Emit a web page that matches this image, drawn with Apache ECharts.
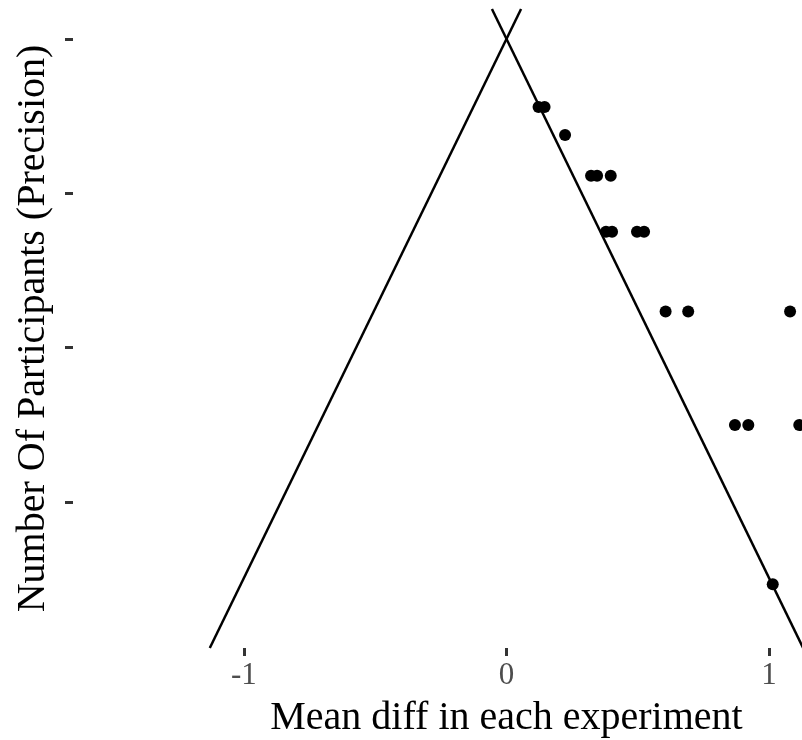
<!DOCTYPE html>
<html>
<head>
<meta charset="utf-8">
<script src="https://cdn.jsdelivr.net/npm/echarts@6/dist/echarts.min.js"></script>
<style>html,body{margin:0;padding:0;background:#fff}#c{width:802px;height:740px}</style>
</head>
<body>
<div id="c"></div>
<script>
// Data (x = mean diff, y = precision)
const meanDiff = [0.122, 0.145, 0.223, 0.322, 0.345, 0.397, 0.379, 0.402, 0.497, 0.524, 0.606, 0.692, 1.080, 0.870, 0.921, 1.115, 1.014];
const precision = [35.59, 35.59, 33.78, 31.14, 31.14, 31.14, 27.51, 27.51, 27.51, 27.51, 22.33, 22.33, 22.33, 14.98, 14.98, 14.98, 4.66];
// Funnel boundary lines (endpoints in data units)
const leftLineX = [-1.130, 0.0555];
const leftLineY = [0.53, 41.94];
const rightLineX = [1.130, -0.0555];
const rightLineY = [0.53, 41.94];
const xTicks = [-1, 0, 1];
const yTicks = [10, 20, 30, 40];
const xRange = [-1.651, 1.651];
const yRange = [0.53, 41.94];

const font = 'Liberation Serif';
const chart = echarts.init(document.getElementById('c'), null, {renderer: 'canvas'});
chart.setOption({
  animation: false,
  backgroundColor: '#ffffff',
  grid: {left: 73, top: 9, bottom: 92, right: -138, containLabel: false, outerBoundsMode: 'none'},
  xAxis: {
    type: 'value', min: xRange[0], max: xRange[1],
    name: 'Mean diff in each experiment', nameLocation: 'middle', nameGap: 50,
    nameTextStyle: {fontFamily: font, fontSize: 40, color: '#000'},
    axisLine: {show: false, onZero: false},
    splitLine: {show: false},
    axisTick: {show: true, customValues: xTicks, length: 8, lineStyle: {color: '#333333', width: 3}},
    axisLabel: {show: true, customValues: xTicks, margin: 12, fontFamily: font, fontSize: 31, color: '#4D4D4D'}
  },
  yAxis: {
    type: 'value', min: yRange[0], max: yRange[1],
    name: 'Number Of Participants (Precision)', nameLocation: 'middle', nameGap: 20, nameRotate: 90,
    nameTextStyle: {fontFamily: font, fontSize: 40, color: '#000'},
    axisLine: {show: false, onZero: false},
    splitLine: {show: false},
    axisTick: {show: true, customValues: yTicks, length: 8, lineStyle: {color: '#333333', width: 3}},
    axisLabel: {show: false, customValues: yTicks}
  },
  series: [
    {type: 'line', data: leftLineX.map((x, i) => [x, leftLineY[i]]), symbol: 'none', lineStyle: {color: '#000', width: 2.5}, silent: true},
    {type: 'line', data: rightLineX.map((x, i) => [x, rightLineY[i]]), symbol: 'none', lineStyle: {color: '#000', width: 2.5}, silent: true},
    {type: 'scatter', data: meanDiff.map((x, i) => [x, precision[i]]), symbol: 'circle', symbolSize: 12, itemStyle: {color: '#000', opacity: 1}, z: 5}
  ]
});
</script>
</body>
</html>
